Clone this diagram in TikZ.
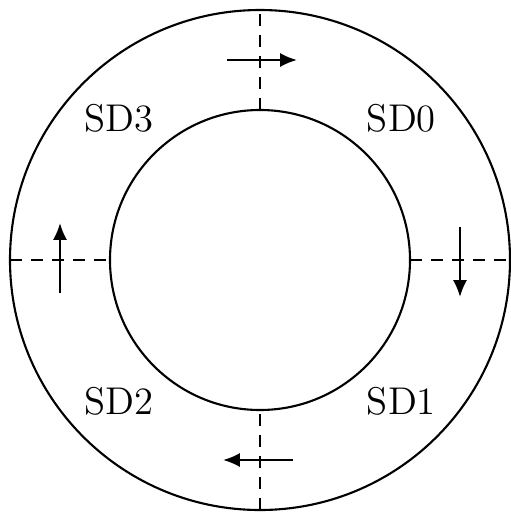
\documentclass[tikz,border=0pt]{standalone}
\usetikzlibrary{arrows.meta}

\begin{document}
\begin{tikzpicture}[>={Latex[length=4.8pt,width=4pt]}, line width=0.6pt,
    every node/.style={font=\fontsize{11}{13}\selectfont}]

  \useasboundingbox (-2.6,-2.53) rectangle (2.5,2.6);

  % Ring
  \draw (0,0) circle (2.5);
  \draw (0,0) circle (1.5);

  % Sector borders
  \foreach \p/\q in {{(0,1.5)}/{(0,2.5)}, {(1.5,0)}/{(2.5,0)},
                     {(0,-2.5)}/{(0,-1.5)}, {(-2.5,0)}/{(-1.5,0)}} {
    \draw[dash pattern=on 3.4pt off 2.6pt] \p -- \q;
  }

  % Direction of travel (clockwise)
  \foreach \a in {0,90,180,270} {
    \draw[->, rotate=\a] (2,0.33) -- (2,-0.37);
  }

  % Sector labels
  \node (sd0) at (45:2) {SD0};
  \node (sd1) at (-45:2) {SD1};
  \node (sd2) at (-135:2) {SD2};
  \node (sd3) at (135:2) {SD3};

\end{tikzpicture}
\end{document}
